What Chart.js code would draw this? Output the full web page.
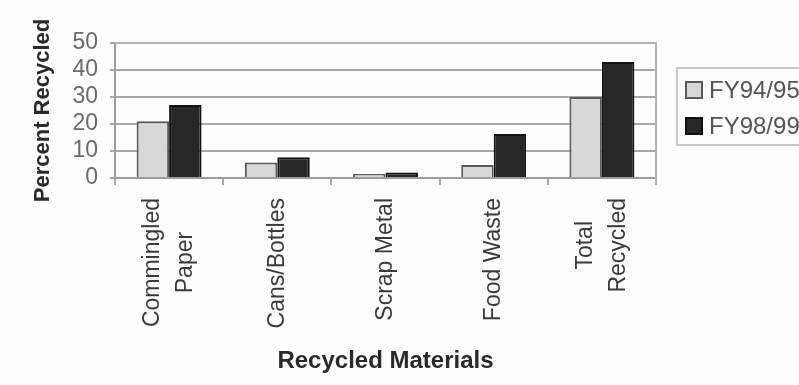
<!DOCTYPE html>
<html>
<head>
<meta charset="utf-8">
<script src="https://cdn.jsdelivr.net/npm/chart.js@4/dist/chart.umd.min.js"></script>
<style>
  html, body { margin: 0; padding: 0; background: #fdfdfd; overflow: hidden; }
  #wrap { width: 799px; height: 385px; }
</style>
</head>
<body>
<div id="wrap"><canvas id="c" width="799" height="385"></canvas></div>
<script>
// Recycling rates by material, two fiscal years
const categories = [["Commingled", "Paper"], ["Cans/Bottles"], ["Scrap Metal"], ["Food Waste"], ["Total", "Recycled"]];
const seriesNames = ["FY94/95", "FY98/99"];
const fy9495 = [21, 5.7, 1.5, 4.8, 30];
const fy9899 = [27, 7.7, 2, 16.3, 43];
const yTicks = [0, 10, 20, 30, 40, 50];

const FONT = "'Liberation Sans', Arial, sans-serif";
const LIGHT_FILL = "#d8d8d8", LIGHT_EDGE = "#5a5a5a";
const DARK_FILL = "#262626", DARK_EDGE = "#111111";

// Rotated, centre-aligned multi-line category labels
const categoryLabels = {
  id: "categoryLabels",
  afterDraw(chart) {
    const ctx = chart.ctx;
    const xs = chart.scales.x;
    ctx.save();
    ctx.font = "23px " + FONT;
    ctx.fillStyle = "#3a3a3a";
    ctx.textAlign = "center";
    ctx.textBaseline = "middle";
    const top = 198, spacing = 33;
    categories.forEach((lines, i) => {
      const cx = xs.getPixelForValue(i);
      const w = Math.max(...lines.map(l => ctx.measureText(l).width));
      ctx.save();
      ctx.translate(cx, top + w / 2);
      ctx.rotate(-Math.PI / 2);
      lines.forEach((line, j) => {
        const off = (j - (lines.length - 1) / 2) * spacing;
        ctx.fillText(line, 0, off);
      });
      ctx.restore();
    });
    ctx.restore();
  }
};

// Plot frame (top and right edges) and boxed legend
const frameAndLegend = {
  id: "frameAndLegend",
  beforeDatasetsDraw(chart) {
    const { ctx, chartArea: a } = chart;
    ctx.save();
    ctx.strokeStyle = "#b4b4b4";
    ctx.lineWidth = 2;
    ctx.beginPath();
    ctx.moveTo(a.left, a.top);
    ctx.lineTo(a.right, a.top);
    ctx.lineTo(a.right, a.bottom + 6);
    ctx.stroke();
    ctx.restore();
  },
  afterDraw(chart) {
    const ctx = chart.ctx;
    ctx.save();
    // legend box
    ctx.strokeStyle = "#c8c8c8";
    ctx.lineWidth = 2;
    ctx.strokeRect(677, 68, 140, 77);
    const items = [
      { name: seriesNames[0], fill: LIGHT_FILL, edge: LIGHT_EDGE, y: 90 },
      { name: seriesNames[1], fill: DARK_FILL, edge: DARK_EDGE, y: 126 }
    ];
    ctx.font = "24px " + FONT;
    ctx.textAlign = "left";
    ctx.textBaseline = "middle";
    items.forEach(it => {
      ctx.fillStyle = it.fill;
      ctx.fillRect(686, it.y - 8, 16, 16);
      ctx.strokeStyle = it.edge;
      ctx.lineWidth = 2;
      ctx.strokeRect(686, it.y - 8, 16, 16);
      ctx.fillStyle = "#555";
      ctx.fillText(it.name, 709, it.y + 1);
    });
    ctx.restore();
  }
};

new Chart(document.getElementById("c"), {
  type: "bar",
  data: {
    labels: categories,
    datasets: [
      {
        label: seriesNames[0],
        data: fy9495,
        backgroundColor: LIGHT_FILL,
        borderColor: LIGHT_EDGE,
        borderWidth: 2,
        categoryPercentage: 0.6,
        barPercentage: 1.0
      },
      {
        label: seriesNames[1],
        data: fy9899,
        backgroundColor: DARK_FILL,
        borderColor: DARK_EDGE,
        borderWidth: 2,
        categoryPercentage: 0.6,
        barPercentage: 1.0
      }
    ]
  },
  options: {
    responsive: false,
    animation: false,
    devicePixelRatio: 1,
    layout: { padding: { top: 43, right: 143, bottom: 0, left: 0 } },
    plugins: {
      legend: { display: false },
      tooltip: { enabled: false }
    },
    scales: {
      x: {
        offset: true,
        ticks: { display: false },
        grid: {
          display: true,
          offset: true,
          drawOnChartArea: false,
          drawTicks: true,
          tickLength: 7,
          color: "#a8a8a8",
          lineWidth: 2
        },
        border: { display: true, color: "#9c9c9c", width: 2 },
        title: {
          display: true,
          text: "Recycled Materials",
          color: "#2a2a2a",
          font: { family: FONT, size: 24, weight: "bold" },
          padding: { top: 0, bottom: 9 }
        },
        afterFit(scale) { scale.height = 207; }
      },
      y: {
        min: 0,
        max: 50,
        afterBuildTicks(scale) { scale.ticks = yTicks.map(v => ({ value: v })); },
        ticks: {
          autoSkip: false,
          color: "#6a6a6a",
          padding: 12,
          font: { family: FONT, size: 23 }
        },
        grid: {
          color: "#a8a8a8",
          lineWidth: 2,
          tickLength: 5,
          drawTicks: true
        },
        border: { display: true, color: "#9c9c9c", width: 2 },
        title: {
          display: true,
          text: "Percent Recycled",
          color: "#2a2a2a",
          font: { family: FONT, size: 22, weight: "bold" },
          padding: { top: 30, bottom: 0 }
        },
        afterFit(scale) { scale.width = 115; }
      }
    }
  },
  plugins: [frameAndLegend, categoryLabels]
});
</script>
</body>
</html>
